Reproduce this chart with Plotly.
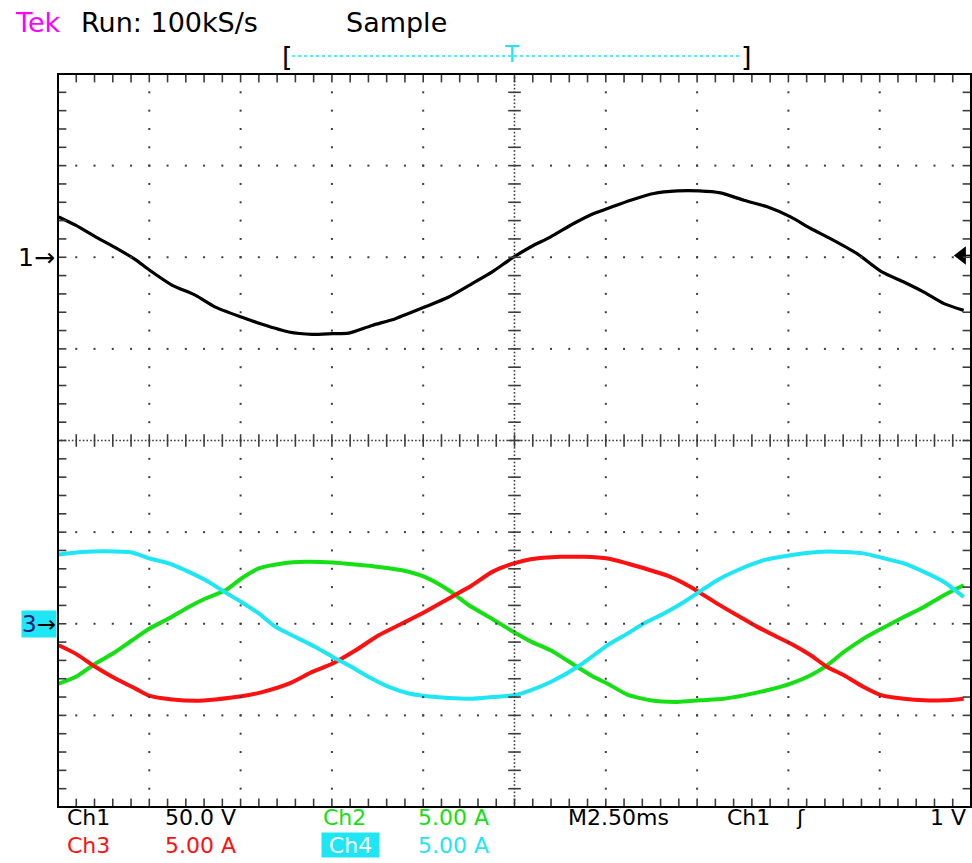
import numpy as np
import plotly.graph_objects as go

# ---------------- scope settings ----------------
time_per_div_ms = 2.5
ch1_volts_per_div = 50.0
current_amps_per_div = 5.0
ch1_ground_div = 2.0        # Ch1 reference marker, divisions above centre
current_ground_div = -2.0   # Ch2/3/4 reference marker, divisions below centre
trigger_level_v = 1.0

# ---------------- Ch1 : voltage (V) ----------------
ch1_time_ms = [-12.48, -12.02, -11.47, -10.93, -10.38, -9.99, -9.37, -8.73, -8.19, -7.48,
               -6.91, -6.18, -5.54, -4.98, -4.54, -3.90, -3.26, -2.46, -1.80, -1.16,
               -0.61, -0.06, 0.44, 0.99, 1.62, 2.17, 2.55, 3.18, 3.81, 4.46,
               5.06, 5.64, 6.28, 6.92, 7.56, 8.11, 8.65, 9.38, 10.06, 10.66,
               11.21, 11.76, 12.30]
ch1_volts = [22.0, 17.5, 11.1, 5.3, -1.3, -7.1, -15.3, -20.8, -27.2, -32.6,
             -36.6, -40.8, -42.1, -41.7, -41.4, -37.2, -33.5, -27.2, -21.7, -14.4,
             -8.0, -0.4, 5.6, 11.1, 18.4, 23.9, 26.6, 31.1, 34.8, 36.2,
             36.2, 35.1, 31.1, 27.5, 22.0, 15.7, 10.2, 2.0, -8.0, -13.5,
             -19.0, -25.3, -29.0]

# ---------------- Ch2 : current (A), green ----------------
ch2_time_ms = [-12.48, -12.02, -11.47, -10.93, -10.47, -9.99, -9.47, -8.92, -8.46, -7.91,
               -7.48, -7.00, -6.36, -5.72, -4.98, -4.35, -3.72, -3.08, -2.46, -1.80,
               -1.25, -0.70, -0.02, 0.44, 0.99, 1.72, 2.17, 2.55, 3.09, 3.72,
               4.46, 5.06, 5.73, 6.28, 6.92, 7.56, 8.11, 8.56, 9.02, 9.56,
               10.06, 10.66, 11.21, 11.76, 12.30]
ch2_amps = [-3.27, -2.91, -2.17, -1.54, -0.90, -0.26, 0.28, 0.92, 1.38, 1.83,
            2.47, 3.02, 3.29, 3.38, 3.34, 3.23, 3.10, 2.92, 2.56, 1.83,
            1.01, 0.37, -0.45, -0.96, -1.45, -2.36, -2.91, -3.27, -3.87, -4.18,
            -4.27, -4.18, -4.09, -3.91, -3.63, -3.27, -2.81, -2.27, -1.54, -0.81,
            -0.26, 0.37, 0.92, 1.56, 2.10]

# ---------------- Ch3 : current (A), red ----------------
ch3_time_ms = [-12.48, -12.02, -11.47, -10.93, -10.38, -9.99, -9.37, -8.73, -8.19, -7.48,
               -6.91, -6.18, -5.54, -4.98, -4.35, -3.72, -3.08, -2.46, -1.80, -1.16,
               -0.61, -0.02, 0.44, 1.26, 1.90, 2.55, 3.09, 3.72, 4.27, 4.82,
               5.55, 6.10, 6.65, 7.19, 7.56, 8.11, 8.56, 9.02, 9.56, 10.06,
               10.66, 11.21, 11.76, 12.30]
ch3_amps = [-1.17, -1.63, -2.36, -2.99, -3.54, -3.94, -4.13, -4.20, -4.13, -3.96,
            -3.73, -3.27, -2.63, -2.17, -1.45, -0.63, 0.01, 0.64, 1.38, 2.10,
            2.83, 3.29, 3.52, 3.65, 3.65, 3.56, 3.29, 2.92, 2.56, 2.01,
            1.10, 0.46, -0.17, -0.72, -1.08, -1.72, -2.36, -2.81, -3.45, -3.91,
            -4.09, -4.18, -4.18, -4.09]

# ---------------- Ch4 : current (A), cyan ----------------
ch4_time_ms = [-12.48, -11.84, -11.20, -10.47, -9.99, -9.47, -8.92, -8.37, -7.91, -7.48,
               -7.00, -6.54, -6.00, -5.45, -4.98, -4.54, -3.99, -3.44, -2.89, -2.46,
               -1.80, -1.16, -0.61, -0.02, 0.44, 0.99, 1.72, 2.17, 2.55, 3.09,
               3.54, 4.09, 4.64, 5.06, 5.55, 6.10, 6.83, 7.56, 8.29, 9.02,
               9.56, 10.06, 10.66, 11.21, 11.76, 12.30]
ch4_amps = [3.78, 3.92, 3.96, 3.89, 3.56, 3.29, 2.83, 2.28, 1.70, 1.19,
            0.56, -0.17, -0.72, -1.27, -1.81, -2.27, -2.91, -3.45, -3.81, -3.94,
            -4.05, -4.09, -4.00, -3.90, -3.63, -3.18, -2.36, -1.72, -1.17, -0.54,
            0.01, 0.56, 1.19, 1.74, 2.38, 2.92, 3.47, 3.74, 3.92, 3.92,
            3.84, 3.60, 3.29, 2.83, 2.28, 1.46]

# ---------------- styling ----------------
FONT = "DejaVu Sans"
MAGENTA = "#ff00ff"
GREEN = "#14e014"
RED = "#ff1010"
CYAN = "#1ee6f4"
GRID = "#3c3c3c"

W, H = 972, 863
ML, MR, MT, MB = 58, 1, 74, 56
PW = W - ML - MR
PH = H - MT - MB


def px(x):
    return (x - ML) / PW


def py(y):
    return (H - MB - y) / PH


x_half = 5 * time_per_div_ms
y_range_v = [(-4 - ch1_ground_div) * ch1_volts_per_div, (4 - ch1_ground_div) * ch1_volts_per_div]
y_range_a = [(-4 - current_ground_div) * current_amps_per_div,
             (4 - current_ground_div) * current_amps_per_div]

fig = go.Figure()


# ---------------- graticule (division units on x2 / y3) ----------------
def grat(x, y, symbol, size, lw=0.0):
    fig.add_trace(go.Scatter(
        x=x, y=y, mode="markers", xaxis="x2", yaxis="y3", hoverinfo="skip", showlegend=False,
        marker=dict(symbol=symbol, size=size, color=GRID, line=dict(width=lw, color=GRID))))


gx, gy = [], []
for v in range(-4, 5):
    if v == 0:
        continue
    for k in range(-20, 21):
        gx.append(v)
        gy.append(k / 5)
for h in range(-3, 4):
    if h == 0:
        continue
    for k in range(-25, 26):
        gx.append(k / 5)
        gy.append(h)
grat(gx, gy, "square", 2)

dense_x = np.arange(-125, 126) / 25
dense_y = np.arange(-100, 101) / 25
grat(list(dense_x) + [0] * len(dense_y), [0] * len(dense_x) + list(dense_y), "square", 1.6)

fifth_x = np.arange(-25, 26) / 5
fifth_y = np.arange(-20, 21) / 5
grat(fifth_x, [0] * len(fifth_x), "line-ns", 9, 1.6)
grat([0] * len(fifth_y), fifth_y, "line-ew", 9, 1.6)
grat(list(fifth_x) * 2, [4] * len(fifth_x) + [-4] * len(fifth_x), "line-ns", 12, 1.6)
grat([5] * len(fifth_y) + [-5] * len(fifth_y), list(fifth_y) * 2, "line-ew", 12, 1.6)

# ---------------- waveforms ----------------
fig.add_trace(go.Scatter(x=ch1_time_ms, y=ch1_volts, mode="lines", name="Ch1", showlegend=False,
                         line=dict(color="#000000", width=3.2, shape="spline", smoothing=0.6)))
fig.add_trace(go.Scatter(x=ch2_time_ms, y=ch2_amps, mode="lines", name="Ch2", yaxis="y2", showlegend=False,
                         line=dict(color=GREEN, width=4, shape="spline", smoothing=0.6)))
fig.add_trace(go.Scatter(x=ch3_time_ms, y=ch3_amps, mode="lines", name="Ch3", yaxis="y2", showlegend=False,
                         line=dict(color=RED, width=4, shape="spline", smoothing=0.6)))
fig.add_trace(go.Scatter(x=ch4_time_ms, y=ch4_amps, mode="lines", name="Ch4", yaxis="y2", showlegend=False,
                         line=dict(color=CYAN, width=4, shape="spline", smoothing=0.6)))

# trigger level marker on the right edge
fig.add_trace(go.Scatter(x=[x_half - 0.3, x_half], y=[trigger_level_v] * 2, mode="lines",
                         showlegend=False, hoverinfo="skip", cliponaxis=False,
                         line=dict(color="#000000", width=1.5)))
fig.add_trace(go.Scatter(x=[x_half - 0.25], y=[trigger_level_v], mode="markers",
                         showlegend=False, hoverinfo="skip", cliponaxis=False,
                         marker=dict(symbol="triangle-left", size=16, color="#000000")))


# ---------------- text ----------------
def txt(text, x, y, color="#000000", size=22, xanchor="left", **kw):
    fig.add_annotation(text=text, x=px(x), y=py(y), xref="paper", yref="paper", showarrow=False,
                       xanchor=xanchor, yanchor="middle",
                       font=dict(family=FONT, size=size, color=color), **kw)


txt("Tek", 13, 22, MAGENTA, size=27)
txt("Run: 100kS/s", 79, 22, size=27)
txt("Sample", 344, 22, size=27)

txt("[", 287, 56, size=27, xanchor="center")
txt("]", 746, 56, size=27, xanchor="center")
txt("T", 512, 54, CYAN, size=23, xanchor="center")
fig.add_shape(type="line", xref="paper", yref="paper", x0=px(292), x1=px(741), y0=py(56), y1=py(56),
              line=dict(color=CYAN, width=1.5, dash="dot"))

row1, row2 = 817, 845
txt("Ch1", 65, row1)
txt("50.0 V", 163, row1)
txt("Ch2", 321, row1, GREEN)
txt("5.00 A", 416, row1, GREEN)
txt("M2.50ms", 566, row1)
txt("Ch1", 725, row1)
txt("ʃ", 794, row1)
txt("1 V", 968, row1, xanchor="right")

txt("Ch3", 65, row2, RED)
txt("5.00 A", 163, row2, RED)
fig.add_annotation(text="Ch4", x=px(321), y=py(row2), xref="paper", yref="paper", showarrow=False,
                   xanchor="left", yanchor="middle", width=57, height=24, bgcolor=CYAN, borderpad=0,
                   font=dict(family=FONT, size=22, color="#ffffff"))
txt("5.00 A", 416, row2, CYAN)

# channel reference markers on the left edge
fig.add_annotation(text="1→", x=0, xref="paper", y=0, yref="y", showarrow=False,
                   xanchor="right", yanchor="middle", xshift=-1,
                   font=dict(family=FONT, size=25, color="#000000"))
fig.add_annotation(text="<span style='color:#1b1b7a'>3</span>→", x=0, xref="paper", y=0, yref="y2",
                   showarrow=False, xanchor="right", yanchor="middle", xshift=-1,
                   bgcolor=CYAN, borderpad=0,
                   font=dict(family=FONT, size=23, color="#000000"))

# frame
fig.add_shape(type="rect", xref="paper", yref="paper", x0=0, x1=1, y0=0, y1=1,
              line=dict(color="#000000", width=2), layer="above")

fig.update_layout(
    width=W, height=H,
    margin=dict(l=ML, r=MR, t=MT, b=MB, pad=0),
    paper_bgcolor="#ffffff", plot_bgcolor="#ffffff",
    showlegend=False,
    xaxis=dict(range=[-x_half, x_half], visible=False, domain=[0, 1]),
    yaxis=dict(range=y_range_v, visible=False, domain=[0, 1]),
    yaxis2=dict(range=y_range_a, visible=False, overlaying="y"),
    xaxis2=dict(range=[-5, 5], visible=False, overlaying="x"),
    yaxis3=dict(range=[-4, 4], visible=False, overlaying="y"),
)

fig.write_html("out.html", config={"displayModeBar": False},
               post_script="document.body.style.margin='0px';document.body.style.overflow='hidden';")
